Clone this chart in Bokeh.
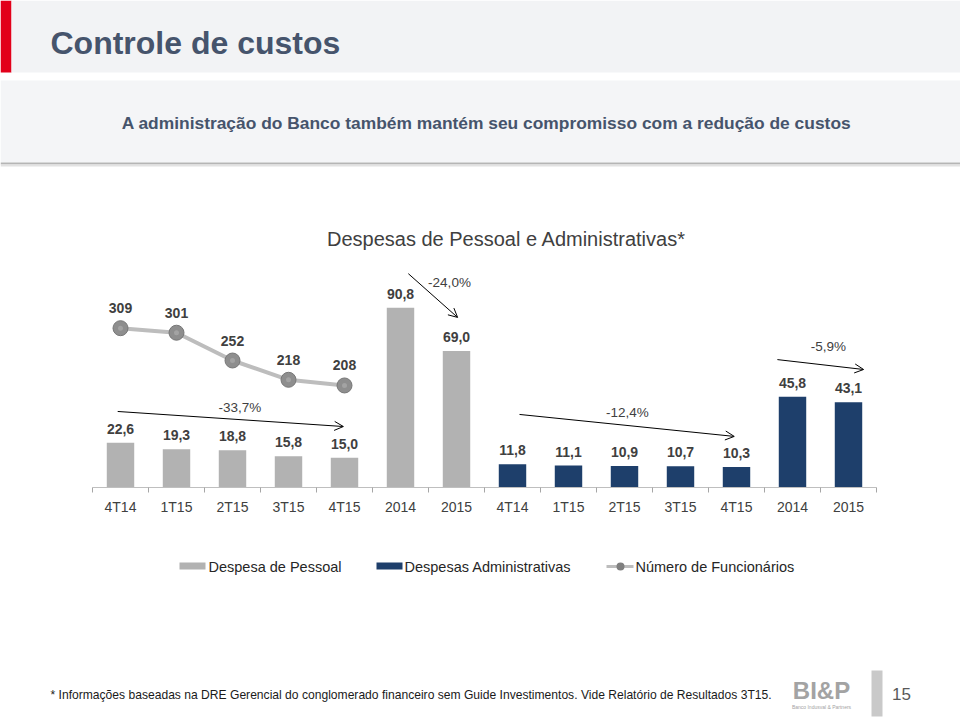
from bokeh.plotting import figure
from bokeh.models import Range1d, FixedTicker, Arrow, OpenHead
from bokeh.layouts import column
from bokeh.core.properties import value
from bokeh.embed import file_html
from bokeh.resources import INLINE

# ---------------- data ----------------
periods = ["4T14", "1T15", "2T15", "3T15", "4T15", "2014", "2015"]
tick_labels = periods + periods
pessoal = [22.6, 19.3, 18.8, 15.8, 15.0, 90.8, 69.0]
administrativas = [11.8, 11.1, 10.9, 10.7, 10.3, 45.8, 43.1]
funcionarios = [309, 301, 252, 218, 208]
variacoes = ["-33,7%", "-24,0%", "-12,4%", "-5,9%"]

title_text = "Controle de custos"
subtitle_text = "A administração do Banco também mantém seu compromisso com a redução de custos"
chart_title = "Despesas de Pessoal e Administrativas*"
legend_labels = ["Despesa de Pessoal", "Despesas Administrativas", "Número de Funcionários"]
footnote = ("* Informações baseadas na DRE Gerencial do conglomerado financeiro sem Guide "
            "Investimentos. Vide Relatório de Resultados 3T15.")
page_number = "15"

# ---------------- styles ----------------
FONT = value("Liberation Sans")
GRAY_BAR = "#b2b2b2"
BLUE_BAR = "#1e3f6b"
LINE_COL = "#bdbdbd"
TXT = "#404040"
SLATE = "#46546c"
W = 960


def fmt(v):
    return ("%.1f" % v).replace(".", ",")


def blank(y_top, y_bottom):
    f = figure(width=W, height=y_bottom - y_top, x_range=Range1d(0, W),
               y_range=Range1d(y_bottom, y_top),
               x_axis_location=None, y_axis_location=None, toolbar_location=None,
               output_backend="svg", min_border=0, outline_line_color=None)
    f.xgrid.visible = False
    f.ygrid.visible = False
    f.background_fill_color = "white"
    f.border_fill_color = "white"
    return f


# ---------------- header ----------------
hdr = blank(0, 250)
hdr.quad(left=[0], right=[11], top=[0], bottom=[72], color="#e2001a", line_color=None)
hdr.quad(left=[11], right=[W], top=[0], bottom=[72], color="#f2f3f5", line_color=None)
hdr.quad(left=[0], right=[W], top=[80], bottom=[162], color="#f4f5f7", line_color=None)
hdr.quad(left=[0], right=[W], top=[162], bottom=[164], color="#b5b5b5", line_color=None)
hdr.quad(left=[0], right=[W], top=[164], bottom=[166], color="#e2e2e2", line_color=None)
hdr.text(x=[50], y=[42], text=[title_text], text_font=FONT, text_font_size="32px",
         text_font_style="bold", text_color=SLATE, text_align="left", text_baseline="middle")
hdr.text(x=[486], y=[122], text=[subtitle_text], text_font=FONT, text_font_size="17.4px",
         text_font_style="bold", text_color=SLATE, text_align="center", text_baseline="middle")
hdr.text(x=[506], y=[238], text=[chart_title], text_font=FONT, text_font_size="20px",
         text_color=TXT, text_align="center", text_baseline="middle")

# ---------------- chart ----------------
n = len(periods)
x_p = list(range(n))
x_a = [i + n for i in range(n)]
x_f = list(range(len(funcionarios)))

ch = figure(width=W, height=275, x_range=Range1d(-120 / 56, 15.0), y_range=Range1d(0, 119.7),
            y_axis_location=None, toolbar_location=None, output_backend="svg",
            min_border_left=0, min_border_right=0, min_border_top=0, min_border_bottom=38,
            outline_line_color=None)
ch.extra_y_ranges = {"emp": Range1d(28.05, 446.0)}
ch.xgrid.visible = False
ch.ygrid.visible = False

ch.vbar(x=x_p, top=pessoal, width=0.49, color=GRAY_BAR, line_color=None)
ch.vbar(x=x_a, top=administrativas, width=0.49, color=BLUE_BAR, line_color=None)

ch.text(x=x_p, y=pessoal, text=[fmt(v) for v in pessoal], y_offset=-14, text_font=FONT,
        text_font_size="14px", text_font_style="bold", text_color=TXT,
        text_align="center", text_baseline="middle")
ch.text(x=x_a, y=administrativas, text=[fmt(v) for v in administrativas], y_offset=-14,
        text_font=FONT, text_font_size="14px", text_font_style="bold", text_color=TXT,
        text_align="center", text_baseline="middle")

ch.line(x=x_f, y=funcionarios, y_range_name="emp", line_color=LINE_COL, line_width=4)
ch.scatter(x=x_f, y=funcionarios, y_range_name="emp", size=15, fill_color="#8e8e8e",
           line_color="#777777", line_width=1)
ch.scatter(x=x_f, y=funcionarios, y_range_name="emp", size=5, fill_color="#b0b0b0",
           line_color=None, fill_alpha=0.6)
ch.text(x=x_f, y=funcionarios, y_range_name="emp", text=[str(v) for v in funcionarios],
        y_offset=-20, text_font=FONT, text_font_size="14px", text_font_style="bold",
        text_color=TXT, text_align="center", text_baseline="middle")

# variation arrows (layout positions in chart coordinates)
arrow_start_x = [-0.05, 5.14, 7.125, 11.73]
arrow_start_y = [38.4, 108.0, 36.9, 64.6]
arrow_end_x = [3.98, 6.02, 10.96, 13.27]
arrow_end_y = [30.8, 85.9, 25.8, 59.6]
label_x = [2.13, 5.875, 9.05, 12.64]
label_y = [40.4, 103.5, 37.9, 71.2]
for xs, ys, xe, ye in zip(arrow_start_x, arrow_start_y, arrow_end_x, arrow_end_y):
    ch.add_layout(Arrow(end=OpenHead(size=9, line_width=1, line_color="black"),
                        x_start=xs, y_start=ys, x_end=xe, y_end=ye,
                        line_width=1, line_color="black"))
ch.text(x=label_x, y=label_y, text=variacoes, text_font=FONT, text_font_size="13.5px",
        text_color=TXT, text_align="center", text_baseline="middle")

ax = ch.xaxis[0]
ax.ticker = FixedTicker(ticks=list(range(2 * n)), minor_ticks=[i - 0.5 for i in range(2 * n + 1)])
ax.major_label_overrides = {i: lab for i, lab in enumerate(tick_labels)}
ax.bounds = (-0.5, 2 * n - 0.5)
ax.axis_line_color = "#bfbfbf"
ax.axis_line_width = 1
ax.major_tick_line_color = None
ax.major_tick_out = 5
ax.major_tick_in = 0
ax.minor_tick_line_color = "#a6a6a6"
ax.minor_tick_out = 5
ax.minor_tick_in = 0
ax.major_label_standoff = 6
ax.major_label_text_font = "Liberation Sans"
ax.major_label_text_font_size = "14px"
ax.major_label_text_color = TXT

# ---------------- footer (legend, note, logo) ----------------
ft = blank(525, 717)
ft.quad(left=[179, 376], right=[205, 402], top=[562, 562], bottom=[569, 569],
        color=[GRAY_BAR, BLUE_BAR], line_color=None)
ft.line(x=[606, 633], y=[566, 566], line_color=LINE_COL, line_width=3)
ft.scatter(x=[620], y=[566], size=8, fill_color="#7f7f7f", line_color=None)
ft.text(x=[208, 404, 635], y=[566, 566, 566], text=legend_labels, text_font=FONT,
        text_font_size="14.5px", text_color="#262626", text_align="left", text_baseline="middle")

ft.text(x=[50], y=[694], text=[footnote], text_font=FONT, text_font_size="12.1px",
        text_color="#1a1a1a", text_align="left", text_baseline="middle")
ft.text(x=[821], y=[690], text=["BI&P"], text_font=FONT, text_font_size="24px",
        text_font_style="bold", text_color="#a3a3a3", text_align="center", text_baseline="middle")
ft.text(x=[821], y=[706], text=["Banco Indusval & Partners"], text_font=FONT, text_font_size="5px",
        text_color="#a3a3a3", text_align="center", text_baseline="middle")
ft.quad(left=[871], right=[882], top=[670], bottom=[716], color="#c9c9c9", line_color=None)
ft.text(x=[901], y=[693], text=[page_number], text_font=FONT, text_font_size="17px",
        text_color="#595959", text_align="center", text_baseline="middle")

layout = column(hdr, ch, ft, spacing=0)
open("out.html", "w").write(file_html(layout, INLINE))
